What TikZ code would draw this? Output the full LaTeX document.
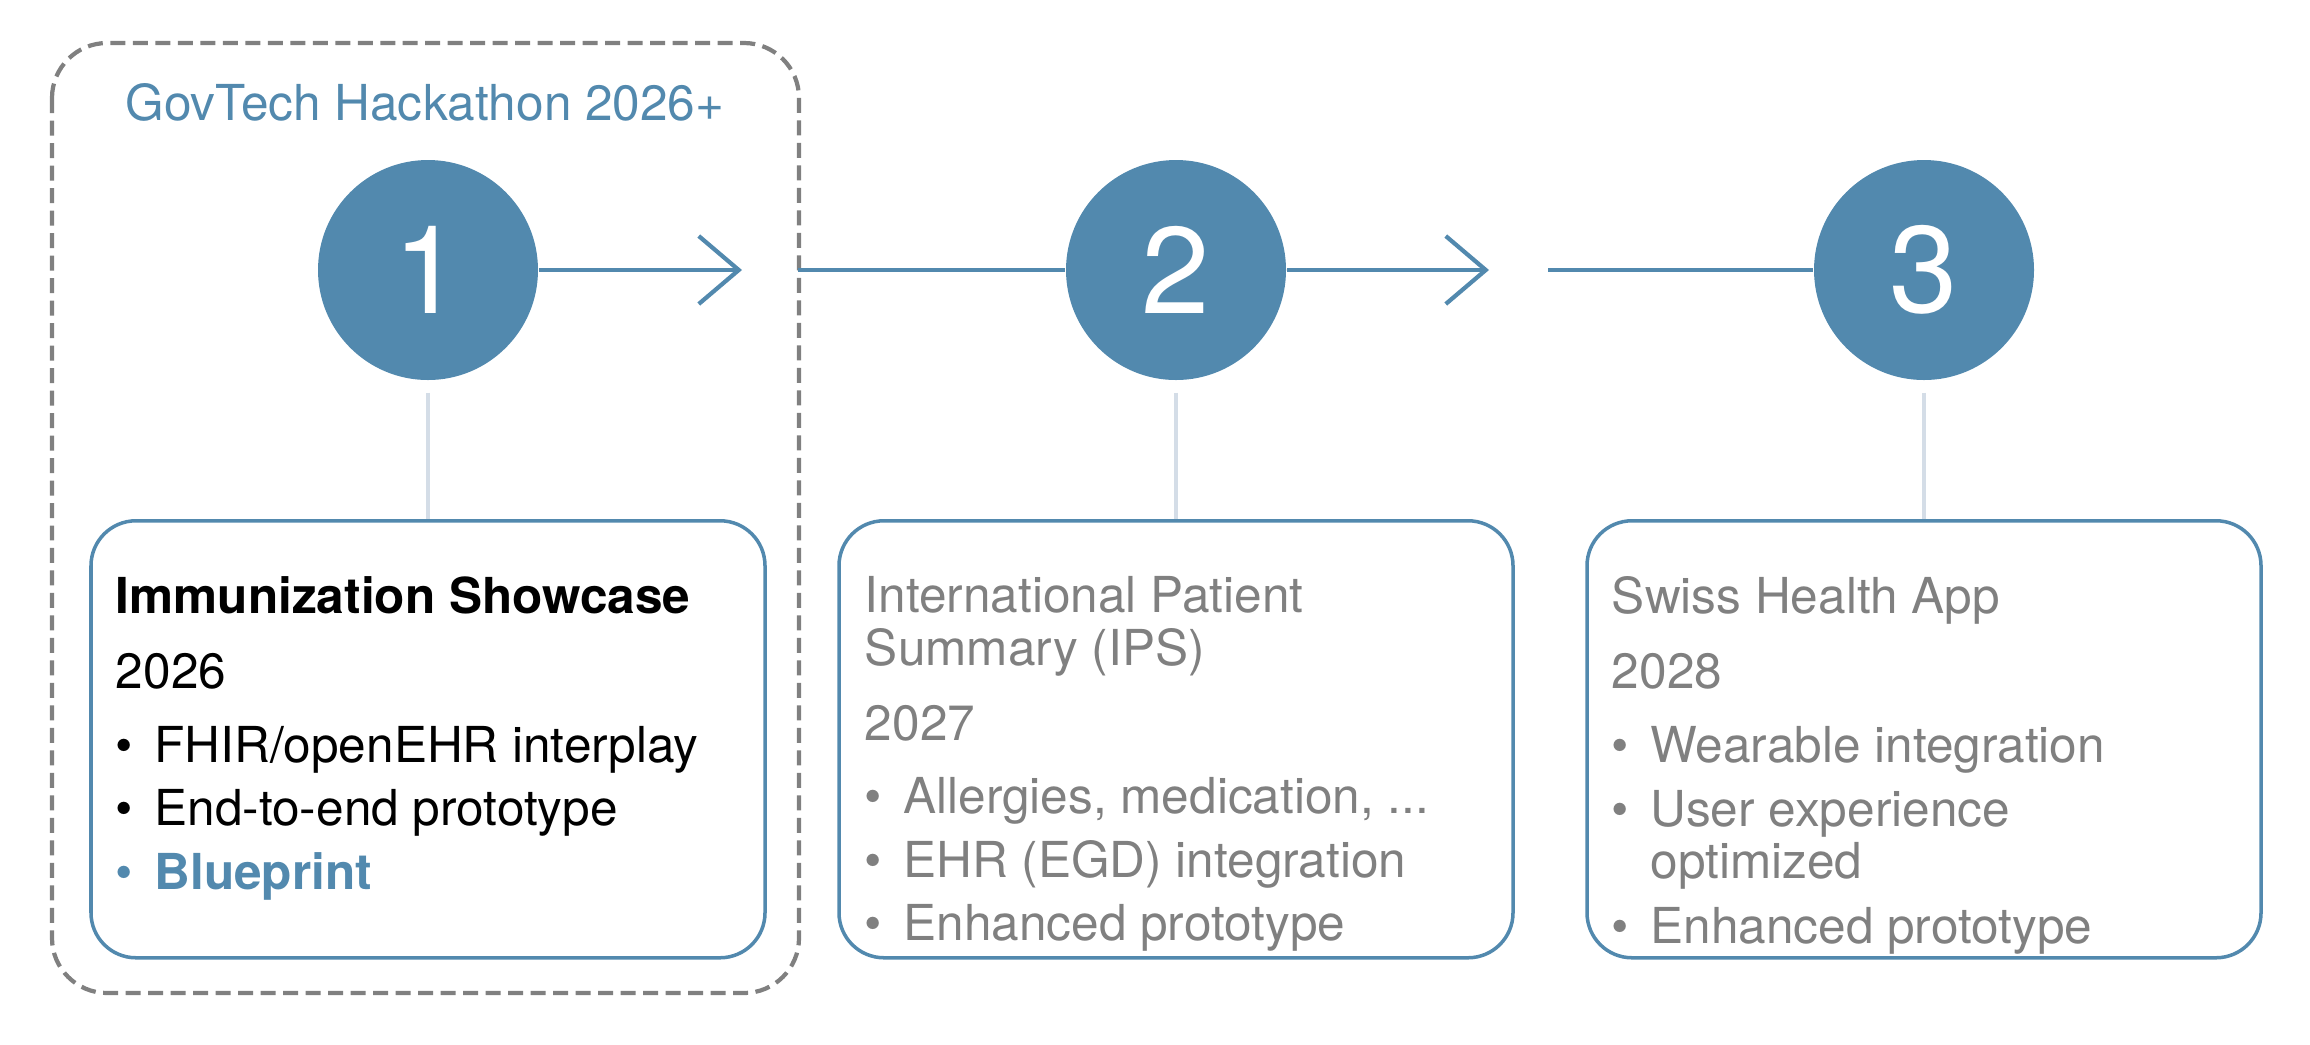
\documentclass[tikz,border=0pt]{standalone}
\usepackage{fontspec}
\setmainfont{TeX Gyre Heros}
\usepackage{tikz}
\usetikzlibrary{arrows.meta, calc, positioning}
\usepackage{xcolor}
\definecolor{hackblue}{HTML}{5289AE}
\definecolor{framegray}{HTML}{808080}
\definecolor{textgray}{HTML}{808080}
\definecolor{stemgray}{HTML}{D4DDE7}
\newcommand{\bul}[1]{\makebox[0.385cm][l]{\textbullet}#1}

\tikzset{
  stepnum/.style={circle, fill=hackblue, text=white, minimum size=2.2cm, inner sep=0pt, font=\fontsize{35}{35}\selectfont},
  card/.style={draw=hackblue, line width=1pt, rounded corners=0.45cm, minimum width=6.74cm, minimum height=4.37cm, anchor=north},
  cardtext/.style={anchor=north west, align=left, inner sep=0pt, font=\fontsize{14.1}{15}\selectfont},
  flow/.style={hackblue, line width=1.2pt},
  stem/.style={stemgray, line width=1.1pt},
}

\begin{document}
\begin{tikzpicture}
    \useasboundingbox (0,0) rectangle (23.1,-10.44);

    % hackathon frame
    \draw[framegray, line width=1.2pt, dash pattern=on 0.15cm off 0.075cm, rounded corners=0.55cm] (0.52,-0.43) rectangle (7.99,-9.93);
    \node[hackblue, font=\fontsize{14.1}{15}\selectfont, anchor=base, inner sep=0pt] (frametitle) at (4.25,-1.20) {GovTech Hackathon 2026+};

    % steps
    \node[stepnum] (num1) at (4.28,-2.70) {1};
    \node[stepnum] (num2) at (11.76,-2.70) {2};
    \node[stepnum] (num3) at (19.24,-2.70) {3};

    % timeline
    \coordinate (tip1) at (7.42,-2.70);
    \coordinate (tail2) at (7.98,-2.70);
    \coordinate (tip2) at (14.89,-2.70);
    \coordinate (tail3) at (15.48,-2.70);
    \draw[flow, -{Straight Barb[length=0.4cm, width=0.68cm]}] (num1) -- (tip1);
    \draw[flow] (tail2) -- (num2);
    \draw[flow, -{Straight Barb[length=0.4cm, width=0.68cm]}] (num2) -- (tip2);
    \draw[flow] (tail3) -- (num3);

    % cards
    \node[card] (card1) at (4.28,-5.19) {};
    \node[card] (card2) at (11.76,-5.19) {};
    \node[card] (card3) at (19.24,-5.19) {};
    \draw[stem] ([yshift=-0.12cm]num1.south) -- (card1.north);
    \draw[stem] ([yshift=-0.12cm]num2.south) -- (card2.north);
    \draw[stem] ([yshift=-0.12cm]num3.south) -- (card3.north);

    % card texts
    \node[cardtext, text=black] (text1) at ($(card1.north west)+(0.26,-0.57)$) {%
        \textbf{Immunization Showcase}\\[6.2pt]
        2026\\[6.2pt]
        \bul{FHIR/openEHR interplay}\\[3pt]
        \bul{End-to-end prototype}\\[3pt]
        {\color{hackblue}\bul{\textbf{Blueprint}}}};
    \node[cardtext, text=textgray] (text2) at ($(card2.north west)+(0.27,-0.57)$) {%
        International Patient\\
        Summary (IPS)\\[6.2pt]
        2027\\[6pt]
        \bul{Allergies, medication, ...}\\[3pt]
        \bul{EHR (EGD) integration}\\[3pt]
        \bul{Enhanced prototype}};
    \node[cardtext, text=textgray] (text3) at ($(card3.north west)+(0.26,-0.57)$) {%
        Swiss Health App\\[6.2pt]
        2028\\[6.2pt]
        \bul{Wearable integration}\\[3pt]
        \bul{User experience}\\
        \hspace*{0.385cm}optimized\\[3.3pt]
        \bul{Enhanced prototype}};
\end{tikzpicture}
\end{document}
